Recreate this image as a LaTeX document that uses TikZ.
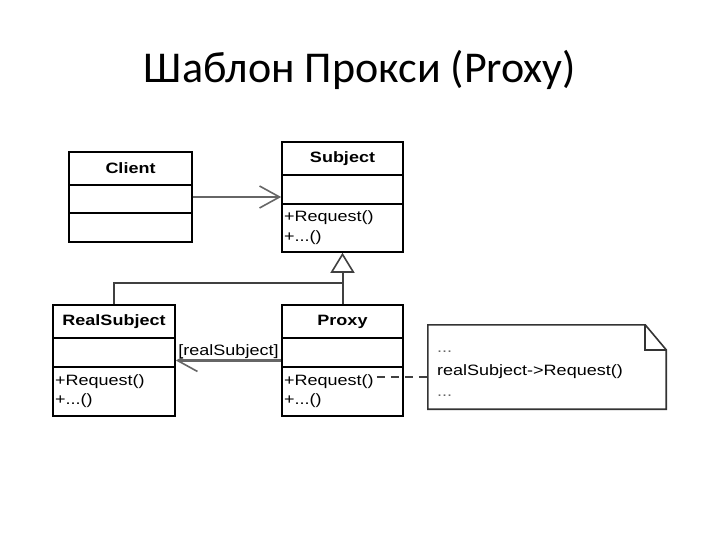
\documentclass[tikz,border=0pt]{standalone}
\usepackage{fontspec}
\setmainfont{Carlito}
\newfontfamily\umlfont[FakeStretch=1.2]{Liberation Sans}
\usetikzlibrary{positioning,arrows.meta}

\begin{document}
\begin{tikzpicture}[x=1pt, y=-1pt,
    classbox/.style={rectangle, draw=black, line width=1.6pt, inner sep=0pt},
    classname/.style={font=\umlfont\bfseries\fontsize{15}{18}\selectfont, inner sep=0pt},
    classop/.style={font=\umlfont\fontsize{15}{18}\selectfont, inner sep=0pt, anchor=base west},
    classline/.style={draw=black, line width=1.6pt},
    assoc/.style={-{Straight Barb[length=20pt, width=22pt, line width=1.6pt]}, draw=black!60, line width=2.5pt},
    inherit/.style={-{Triangle[open, length=20pt, width=24pt, line width=1.6pt]}, draw=black!75, line width=2pt},
    genline/.style={draw=black!75, line width=2pt},
    notebox/.style={rectangle, inner sep=0pt, minimum width=238pt, minimum height=84pt},
    noteline/.style={draw=black!80, line width=1.6pt},
    notetext/.style={font=\umlfont\fontsize{15}{18}\selectfont, inner sep=0pt, anchor=base west},
    notelink/.style={draw=black!75, line width=1.5pt, dash pattern=on 8pt off 6pt}]

\useasboundingbox (0,0) rectangle (720,540);

% Title
\node[font=\fontsize{44}{50}\selectfont, anchor=base] (title) at (360,83) {Шаблон Прокси (Proxy)};

% Classes
\node[classbox, minimum width=123pt, minimum height=90pt] (client) at (130.5,197) {};
\node[classbox, minimum width=121pt, minimum height=110pt] (subject) at (342.5,197) {};
\node[classbox, minimum width=122pt, minimum height=111pt] (realsubj) at (114,360.5) {};
\node[classbox, minimum width=121pt, minimum height=111pt] (proxy) at (342.5,360.5) {};

% Compartments
\draw[classline] (client.west |- 0,185) -- (client.east |- 0,185);
\draw[classline] (client.west |- 0,213) -- (client.east |- 0,213);
\draw[classline] (subject.west |- 0,175) -- (subject.east |- 0,175);
\draw[classline] (subject.west |- 0,204) -- (subject.east |- 0,204);
\draw[classline] (realsubj.west |- 0,338) -- (realsubj.east |- 0,338);
\draw[classline] (realsubj.west |- 0,367) -- (realsubj.east |- 0,367);
\draw[classline] (proxy.west |- 0,338) -- (proxy.east |- 0,338);
\draw[classline] (proxy.west |- 0,367) -- (proxy.east |- 0,367);

% Names and operations
\node[classname] (clientname) at (130.5,168.5) {Client};
\node[classname] (subjectname) at (342.5,158.5) {Subject};
\node[classname] (realsubjname) at (114,321.5) {RealSubject};
\node[classname] (proxyname) at (342.5,321.5) {Proxy};
\node[classop] (subjectreq) at (284,222) {+Request()};
\node[classop] (subjectmore) at (284,241) {+...()};
\node[classop] (realsubjreq) at (55,385) {+Request()};
\node[classop] (realsubjmore) at (55,404) {+...()};
\node[classop] (proxyreq) at (284,385) {+Request()};
\node[classop] (proxymore) at (284,404) {+...()};

% Note
\node[notebox] (note) at (547,367) {};
\draw[noteline] (note.north west) -- ([xshift=-21pt]note.north east) -- ([yshift=-25pt]note.north east)
    -- (note.south east) -- (note.south west) -- cycle;
\draw[noteline] ([xshift=-21pt]note.north east) |- ([yshift=-25pt]note.north east);
\node[notetext, text=black!60] (notetop) at (437,352) {...};
\node[notetext] (notecall) at (437,375) {realSubject->Request()};
\node[notetext, text=black!60] (notebottom) at (437,396) {...};

% Connections
\coordinate (junc) at (342.5,283);
\draw[assoc] (client) -- (subject);
\draw[genline] (realsubj.north) |- (junc);
\draw[inherit] (proxy.north) -- (subject.south);
\draw[assoc] (proxy) -- node[above=1pt, fill=white, inner sep=0pt, font=\umlfont\fontsize{15}{18}\selectfont] (rolelabel) {[realSubject]} (realsubj);
\draw[notelink] ([xshift=3pt, yshift=4pt]proxyreq.east) -- ([yshift=4pt]proxyreq.east -| note.west);

\end{tikzpicture}
\end{document}
